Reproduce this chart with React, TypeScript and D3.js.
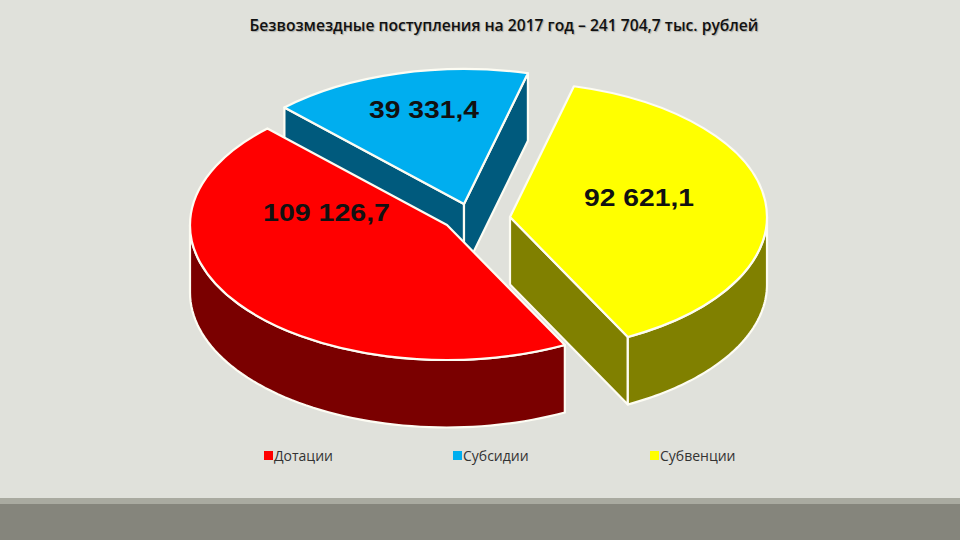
import React from "react";
import * as d3 from "d3";

const titleText = "Безвозмездные поступления на 2017 год – 241 704,7 тыс. рублей";
const categories = ["Субвенции", "Дотации", "Субсидии"];
const seriesValues = [92621.1, 109126.7, 39331.4];
const valueLabels = ["92 621,1", "109 126,7", "39 331,4"];
const topColors = ["#ffff00", "#ff0000", "#00aeef"];
const wallColors = ["#808000", "#7a0000", "#005a7d"];
const drawOrder = [2, 0, 1];
const legendOrder = [1, 2, 0];
const legendX = [264, 453, 650];

const W = 960, H = 540;
const RX = 257, RY = 135, DEPTH = 67.5;
const START = (14.4 * Math.PI) / 180;
const centers: [number, number][] = [[510, 217], [447, 225], [464, 204]];
const labelPos: [number, number][] = [[639, 206], [326.5, 221], [424, 118]];
const labelWidth = [110, 127, 110];
const OUT = "#fdfcf3";

const pieGen = d3.pie<number>().sort(null).startAngle(START).endAngle(START + 2 * Math.PI);
const arcs = pieGen(seriesValues);
const arcGen = d3.arc<any>().innerRadius(0).outerRadius(RX);
const pathLine = d3.line();

function pt(c: [number, number], a: number, dy = 0): [number, number] {
  return [c[0] + RX * Math.sin(a), c[1] - RY * Math.cos(a) + dy];
}

function outerWall(c: [number, number], a0: number, a1: number): string | null {
  const lo = Math.max(a0, Math.PI / 2);
  const hi = Math.min(a1, (3 * Math.PI) / 2);
  if (hi <= lo) return null;
  const ts = d3.range(0, 61).map((i) => lo + ((hi - lo) * i) / 60);
  const top = ts.map((t) => pt(c, t));
  const bottom = ts.map((t) => pt(c, t, DEPTH)).reverse();
  return pathLine([...top, ...bottom]) + "Z";
}

function radialWall(c: [number, number], a: number): string {
  const p = pt(c, a);
  return pathLine([c, p, [p[0], p[1] + DEPTH], [c[0], c[1] + DEPTH]]) + "Z";
}

export default function App() {
  return (
    <svg
      width={W}
      height={H}
      viewBox={`0 0 ${W} ${H}`}
      style={{ position: "fixed", left: 0, top: 0, display: "block" }}
    >
      <rect width={W} height={H} fill="#e0e1db" />
      <rect y={498} width={W} height={6} fill="#a9aaa0" />
      <rect y={504} width={W} height={36} fill="#85857c" />
      <text
        x={504}
        y={31}
        textAnchor="middle"
        fontFamily="'Open Sans', sans-serif"
        fontWeight={600}
        fontSize={15.65}
        fill="#111"
        style={{ textShadow: "1px 1px 1px rgba(0,0,0,0.25)" }}
      >
        {titleText}
      </text>
      {drawOrder.map((i) => {
        const d = arcs[i];
        const c = centers[i];
        const outer = outerWall(c, d.startAngle, d.endAngle);
        const sides: number[] = [];
        if (Math.sin(d.startAngle) < 0) sides.push(d.startAngle);
        if (Math.sin(d.endAngle) > 0) sides.push(d.endAngle);
        return (
          <g key={categories[i]} stroke={OUT} strokeWidth={2.2} strokeLinejoin="round">
            {sides.map((a) => (
              <path key={a} d={radialWall(c, a)} fill={wallColors[i]} />
            ))}
            {outer && <path d={outer} fill={wallColors[i]} />}
            <path
              d={arcGen(d) as string}
              transform={`translate(${c[0]},${c[1]}) scale(1,${RY / RX})`}
              fill={topColors[i]}
              vectorEffect="non-scaling-stroke"
            />
          </g>
        );
      })}
      {drawOrder.map((i) => (
        <text
          key={valueLabels[i]}
          x={labelPos[i][0]}
          y={labelPos[i][1]}
          textAnchor="middle"
          textLength={labelWidth[i]}
          lengthAdjust="spacingAndGlyphs"
          fontFamily="'Liberation Sans', Arial, sans-serif"
          fontWeight={700}
          fontSize={24}
          fill="#111"
        >
          {valueLabels[i]}
        </text>
      ))}
      {legendOrder.map((i, k) => (
        <g key={categories[i]}>
          <rect x={legendX[k]} y={451} width={9} height={9} fill={topColors[i]} />
          <text
            x={legendX[k] + 10}
            y={461}
            fontFamily="'Open Sans', sans-serif"
            fontSize={14}
            fill="#333"
          >
            {categories[i]}
          </text>
        </g>
      ))}
    </svg>
  );
}
